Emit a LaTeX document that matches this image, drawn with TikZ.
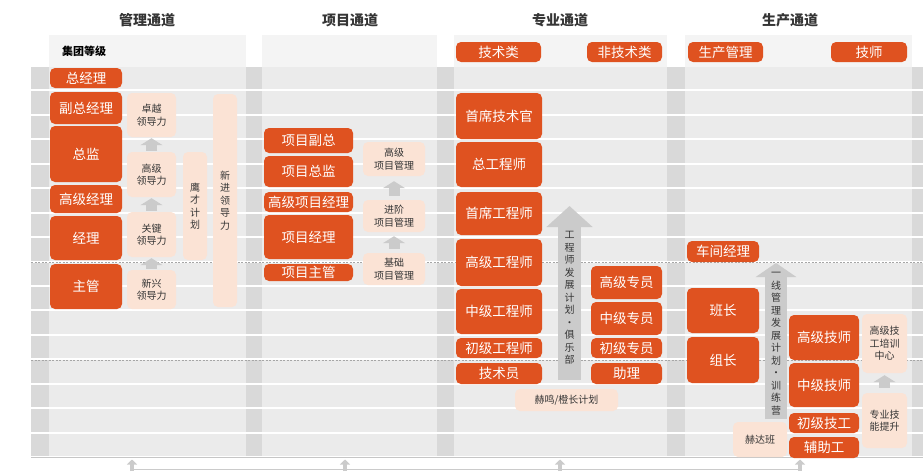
\documentclass[tikz,border=0pt]{standalone}
\usepackage{fontspec}
\setmainfont{Noto Sans CJK SC}
\usetikzlibrary{arrows.meta}
\definecolor{bandGray}{HTML}{D9D9D9}
\definecolor{laneGray}{HTML}{EBEBEB}
\definecolor{headGray}{HTML}{F4F4F4}
\definecolor{rankOrange}{HTML}{DF5220}
\definecolor{planPeach}{HTML}{FBE3D5}
\definecolor{arrowGray}{HTML}{CBCBCB}
\definecolor{inkGray}{HTML}{353535}
\begin{document}
\begin{tikzpicture}[x=1pt,y=-1pt,
  rank/.style={fill=rankOrange, rounded corners=5pt, inner sep=0pt, text=white,
    align=center, font=\fontsize{13.5}{15}\selectfont},
  plan/.style={fill=planPeach, rounded corners=5pt, inner sep=0pt, text=inkGray,
    align=center, font=\fontsize{10}{12.5}\selectfont},
  lift/.style={arrowGray, line width=11pt, -{Triangle[width=22pt,length=7pt]}},
  bigLift/.style 2 args={arrowGray, -{Triangle[width=#1,length=#2]}},
  footLift/.style={arrowGray, line width=4pt, -{Triangle[width=10pt,length=5pt]}},
  laneTitle/.style={text=inkGray, font=\fontsize{14}{16}\selectfont\bfseries},
  laneText/.style={text=inkGray, align=center, font=\fontsize{10}{12.5}\selectfont}
]
    \newcommand{\rankBox}[7][rank]{
        \node[#1, minimum width={(#5-#3)*1pt}, minimum height={(#6-#4)*1pt}]
          (#2) at ({(#3+#5)/2},{(#4+#6)/2}) {#7};
    }
\useasboundingbox (0,0) rectangle (923,471);

\foreach \xa/\xb in {49/246,262/437,454/667,685/912}
  \fill[headGray] (\xa,35) rectangle (\xb,67);
\foreach \i in {0,...,15}{
  \pgfmathsetmacro{\yTop}{67+24.44*\i}
  \fill[bandGray] (31,\yTop) rectangle (923,\yTop+22.44);
  \foreach \xa/\xb in {49/246,262/437,454/667,685/912}
    \fill[laneGray] (\xa,\yTop) rectangle (\xb,\yTop+22.44);
}
\foreach \y in {262.5,360.2}
  \draw[gray!70, line width=0.5pt, dash pattern=on 2pt off 1.5pt] (31,\y) -- (923,\y);
\draw[gray!45, line width=0.6pt] (31,457.3) -- (923,457.3);

\node[laneTitle] (glTitle) at (147,20) {管理通道};
\node[laneTitle] (xmTitle) at (350,20) {项目通道};
\node[laneTitle] (zyTitle) at (560,20) {专业通道};
\node[laneTitle] (scTitle) at (790,20) {生产通道};
\node[text=black, font=\fontsize{11}{13}\selectfont\bfseries] (jtdj) at (84,51) {集团等级};

\rankBox{zjl}{50}{68}{122}{88}{总经理}
\rankBox{fzjl}{50}{92}{122}{124}{副总经理}
\rankBox{zj}{50}{126}{122}{182}{总监}
\rankBox{gjjl}{50}{185}{122}{213}{高级经理}
\rankBox{jl}{50}{216}{122}{260}{经理}
\rankBox{zg}{50}{264}{122}{309}{主管}
\rankBox[plan]{zyld}{127}{93}{176}{137}{卓越\\领导力}
\rankBox[plan]{gjld}{127}{152}{176}{197}{高级\\领导力}
\rankBox[plan]{gjjld}{127}{212}{176}{257}{关键\\领导力}
\rankBox[plan]{xxld}{127}{270}{176}{309}{新兴\\领导力}
\rankBox[plan]{ycjh}{183}{152}{207}{260}{鹰\\才\\计\\划}
\rankBox[plan]{xjld}{213}{94}{237}{307}{新\\进\\领\\导\\力}
\draw[lift, shorten <=1pt, shorten >=1pt] (xxld) -- (gjjld);
\draw[lift, shorten <=1pt, shorten >=1pt] (gjjld) -- (gjld);
\draw[lift, shorten <=1pt, shorten >=1pt] (gjld) -- (zyld);

\rankBox{xmfz}{264}{128}{353}{153}{项目副总}
\rankBox{xmzj}{264}{156}{353}{187}{项目总监}
\rankBox{gjxmjl}{264}{192}{353}{212}{高级项目经理}
\rankBox{xmjl}{264}{215}{353}{259}{项目经理}
\rankBox{xmzg}{264}{264}{353}{281}{项目主管}
\rankBox[plan]{gjxm}{363}{142}{425}{176}{高级\\项目管理}
\rankBox[plan]{jjxm}{363}{200}{425}{232}{进阶\\项目管理}
\rankBox[plan]{jcxm}{363}{253}{425}{285}{基础\\项目管理}
\draw[lift, shorten <=4pt, shorten >=4pt] (jcxm) -- (jjxm);
\draw[lift, shorten <=4pt, shorten >=5pt] (jjxm) -- (gjxm);

\rankBox{jsl}{456}{42}{541}{62}{技术类}
\rankBox{fjsl}{587}{42}{662}{62}{非技术类}
\rankBox{sxjsg}{456}{93}{542}{139}{首席技术官}
\rankBox{zgcs}{456}{142}{542}{187}{总工程师}
\rankBox{sxgcs}{456}{192}{542}{235}{首席工程师}
\rankBox{gjgcs}{456}{239}{542}{286}{高级工程师}
\rankBox{zjgcs}{456}{289}{542}{334}{中级工程师}
\rankBox{cjgcs}{456}{338}{542}{358}{初级工程师}
\rankBox{jsy}{456}{363}{542}{384}{技术员}
\rankBox{gjzy}{591}{266}{662}{299}{高级专员}
\rankBox{zjzy}{591}{302}{662}{335}{中级专员}
\rankBox{cjzy}{591}{338}{662}{358}{初级专员}
\rankBox{zl}{591}{363}{662}{384}{助理}
\coordinate (gcsFoot) at (569.5,380);
\coordinate (gcsHead) at (569.5,206);
\draw[bigLift={45pt}{21pt}, line width=23pt] (gcsFoot) -- (gcsHead);
\node[laneText] (gcsPlan) at (569.5,298) {工\\程\\师\\发\\展\\计\\划\\·\\俱\\乐\\部};
\rankBox[plan]{hmjh}{515}{389}{618}{411}{赫鸣/橙长计划}

\rankBox{scgl}{688}{42}{763}{62}{生产管理}
\rankBox{jsh}{831}{42}{907}{62}{技师}
\rankBox{cjjl}{687}{241}{759}{262}{车间经理}
\rankBox{bz}{687}{288}{759}{333}{班长}
\rankBox{zuz}{687}{337}{759}{383}{组长}
\rankBox{gjjs}{789}{315}{859}{360}{高级技师}
\rankBox{zjjs}{789}{363}{859}{407}{中级技师}
\rankBox{cjjg}{789}{413}{859}{433}{初级技工}
\rankBox{fzg}{789}{437}{859}{458}{辅助工}
\rankBox[plan]{hdb}{733}{422}{787}{457}{赫达班}
\rankBox[plan]{gjpx}{862}{314}{907}{373}{高级技\\工培训\\中心}
\rankBox[plan]{zyjn}{862}{393}{907}{448}{专业技\\能提升}
\draw[lift, shorten <=5pt, shorten >=2pt] (zyjn) -- (gjpx);
\coordinate (yxFoot) at (776,419);
\coordinate (yxHead) at (776,263);
\draw[bigLift={40pt}{14pt}, line width=22pt] (yxFoot) -- (yxHead);
\node[laneText] (yxPlan) at (776,344) {一\\线\\管\\理\\发\\展\\计\\划\\·\\训\\练\\营};

\foreach \x [count=\k] in {132,345,560,800}{
  \coordinate (foot\k) at (\x,471);
  \coordinate (top\k) at (\x,459.5);
  \draw[footLift] (foot\k) -- (top\k);
}
\draw[arrowGray, line width=1pt] (foot1|-0,469.5) -- (foot4|-0,469.5);
\end{tikzpicture}
\end{document}
